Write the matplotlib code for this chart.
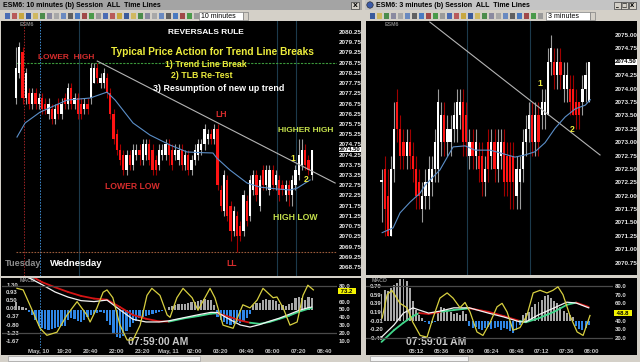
import numpy as np
import matplotlib
matplotlib.use("Agg")
import matplotlib.pyplot as plt
from matplotlib.patches import Rectangle, Circle

W, H = 640, 362
NARROW = ["Liberation Sans Narrow", "Liberation Sans", "DejaVu Sans"]

# ---------------- left window: ESM6 10 minute bars ----------------
left_open = [2077.0, 2078.25, 2079.25, 2077.0, 2077.25, 2076.75, 2077.25, 2076.75, 2077.0, 2076.75,
             2076.25, 2076.5, 2076.0, 2076.75, 2076.25, 2077.0, 2076.75, 2077.5, 2076.75, 2077.0,
             2076.75, 2076.5, 2076.75, 2077.0, 2077.75, 2078.5, 2077.75, 2077.75, 2078.0, 2077.25,
             2076.25, 2075.25, 2074.5, 2074.25, 2073.5, 2074.25, 2073.75, 2074.25, 2074.5, 2074.0,
             2074.25, 2074.75, 2074.5, 2074.0, 2073.75, 2074.25, 2074.25, 2074.75, 2074.5, 2074.25,
             2074.0, 2074.5, 2073.75, 2074.25, 2073.5, 2074.0, 2074.25, 2074.5, 2074.75, 2075.0,
             2075.25, 2075.0, 2075.5, 2072.5, 2071.5, 2073.0, 2071.75, 2070.5, 2071.25, 2070.75,
             2070.5, 2072.0, 2071.25, 2072.5, 2073.25, 2071.75, 2073.5, 2072.75, 2072.5, 2073.5,
             2072.75, 2073.0, 2072.75, 2072.25, 2072.75, 2072.25, 2072.75, 2073.25, 2073.75, 2074.5,
             2074.0, 2073.25]
left_high = [2079.5, 2079.75, 2079.5, 2078.5, 2077.5, 2077.5, 2077.5, 2077.25, 2077.25, 2077.0,
             2077.0, 2076.75, 2076.75, 2077.0, 2077.0, 2077.25, 2077.75, 2077.75, 2077.25, 2077.25,
             2077.0, 2077.0, 2077.0, 2078.75, 2078.75, 2078.75, 2078.25, 2078.5, 2078.25, 2077.5,
             2076.5, 2075.5, 2074.75, 2074.5, 2074.5, 2074.5, 2074.75, 2074.75, 2074.75, 2075.0,
             2075.0, 2075.0, 2074.75, 2074.25, 2074.75, 2074.75, 2075.0, 2075.0, 2074.75, 2074.75,
             2074.75, 2074.75, 2074.5, 2074.5, 2074.25, 2074.75, 2075.0, 2075.0, 2075.75, 2075.5,
             2075.5, 2075.75, 2075.75, 2072.75, 2073.5, 2073.25, 2072.0, 2071.75, 2071.5, 2071.0,
             2072.5, 2072.25, 2073.25, 2073.5, 2073.5, 2073.25, 2073.75, 2073.75, 2073.75, 2073.75,
             2073.5, 2073.25, 2073.0, 2073.0, 2073.0, 2073.25, 2073.75, 2075.0, 2075.0, 2074.75,
             2074.25, 2074.5]
left_low = [2076.75, 2078.0, 2076.75, 2076.75, 2076.5, 2076.5, 2076.5, 2076.5, 2076.25, 2076.25,
            2076.0, 2075.75, 2075.75, 2076.0, 2076.0, 2076.5, 2076.5, 2076.5, 2076.5, 2076.0,
            2076.0, 2076.25, 2076.25, 2076.75, 2077.75, 2077.75, 2077.5, 2077.5, 2077.0, 2076.0,
            2074.75, 2074.25, 2073.75, 2073.25, 2073.25, 2073.5, 2073.5, 2074.0, 2073.75, 2073.75,
            2074.0, 2073.75, 2073.25, 2073.25, 2073.5, 2074.0, 2074.0, 2073.75, 2073.5, 2074.0,
            2073.75, 2073.5, 2073.5, 2073.25, 2073.25, 2073.75, 2074.0, 2074.25, 2074.5, 2074.75,
            2074.75, 2074.75, 2072.5, 2071.5, 2071.25, 2071.0, 2070.0, 2070.25, 2069.5, 2070.0,
            2070.25, 2070.75, 2071.0, 2072.25, 2072.0, 2071.5, 2072.5, 2072.5, 2072.25, 2072.5,
            2072.5, 2072.0, 2072.25, 2072.0, 2071.75, 2071.75, 2072.5, 2073.0, 2073.5, 2073.5,
            2073.25, 2073.0]
left_close = [2078.5, 2079.5, 2077.0, 2078.25, 2076.75, 2077.25, 2076.75, 2077.0, 2076.5, 2076.5,
              2076.75, 2076.0, 2076.5, 2076.25, 2076.75, 2076.75, 2077.5, 2076.75, 2077.0, 2076.25,
              2076.25, 2076.75, 2076.5, 2078.5, 2078.5, 2078.0, 2078.0, 2078.25, 2077.25, 2076.25,
              2075.0, 2074.5, 2074.0, 2073.5, 2074.25, 2073.75, 2074.5, 2074.5, 2074.25, 2074.75,
              2074.75, 2074.0, 2073.5, 2073.5, 2074.5, 2074.5, 2074.75, 2074.25, 2073.75, 2074.5,
              2074.5, 2073.75, 2074.25, 2073.5, 2074.0, 2074.5, 2074.75, 2074.75, 2075.5, 2075.25,
              2075.0, 2075.5, 2072.75, 2071.75, 2073.25, 2071.25, 2070.5, 2071.5, 2070.25, 2070.25,
              2072.25, 2071.0, 2073.0, 2073.25, 2072.25, 2073.0, 2072.75, 2073.5, 2073.5, 2072.75,
              2073.25, 2072.25, 2072.5, 2072.75, 2072.25, 2073.0, 2073.5, 2074.25, 2074.5, 2073.75,
              2073.5, 2074.5]
left_ma_bar = [0.3, 2.8, 7.4, 15.7, 22.8, 28.0, 30.5, 36.0, 41.2, 47.4, 52.6, 56.6, 60.6, 61.8,
               65.8, 71.1, 75.1, 80.3, 84.3, 86.5, 90.5]
left_ma = [2075.11, 2075.80, 2076.33, 2076.92, 2077.02, 2077.31, 2076.92, 2075.80, 2075.21, 2074.72,
           2074.38, 2074.35, 2074.33, 2074.08, 2073.50, 2072.86, 2072.66, 2072.57, 2072.52, 2072.61,
           2073.01]
left_trend_bar = [25.0, 98.2]
left_trend = [2078.83, 2072.86]
left_green_level = 2078.75
left_low_level = 2069.5
left_ticks = [2080.25 - 0.5 * k for k in range(24)]

left_hist = [0.40, 0.20, 0.15, 0.10, -0.15, -0.30, -0.55, -0.85, -1.00, -1.05,
             -1.10, -1.05, -1.00, -0.95, -0.90, -0.85, -0.55, -0.45, -0.50, -0.60,
             -0.65, -0.55, -0.40, -0.30, -0.25, -0.20, -0.15, -0.20, -0.60, -0.80,
             -1.25, -1.45, -1.50, -1.40, -1.15, -0.95, -0.70, -0.60, -0.45, -0.40,
             -0.35, -0.30, -0.25, -0.20, -0.12, -0.08, -0.05, 0.15, 0.18, 0.25,
             0.28, 0.27, 0.30, 0.32, 0.38, 0.42, 0.45, 0.50, 0.55, 0.52,
             0.48, 0.25, -0.40, -0.55, -0.65, -0.75, -0.80, -0.75, -0.65, -0.70,
             -0.60, -0.45, -0.25, 0.25, 0.32, 0.35, 0.48, 0.55, 0.52, 0.50,
             0.45, 0.30, 0.25, 0.20, 0.28, 0.35, 0.60, 0.68, 0.62, 0.50,
             0.65, 0.60]
left_macd_bar = [4, 8, 12, 16, 20, 24, 28, 32, 36, 40, 44, 47, 52, 56, 60, 62, 66, 69, 72, 75,
                 78, 81, 84, 87, 90, 91]
left_macd = [1.68, 1.32, 0.93, 0.66, 0.47, 0.42, 0.50, -0.02, -0.52, -0.66, -0.66, -0.60, -0.42,
             -0.28, -0.15, -0.16, -0.55, -0.82, -0.93, -0.80, -0.62, -0.46, -0.26, -0.05, 0.10, 0.13]
left_signal = [1.85, 1.45, 1.18, 0.93, 0.72, 0.58, 0.52, 0.13, -0.29, -0.49, -0.63, -0.64, -0.46,
               -0.35, -0.22, -0.20, -0.41, -0.58, -0.70, -0.76, -0.66, -0.50, -0.33, -0.12, 0.04, 0.08]
left_stoch_bar = [0.3, 2.2, 5.2, 7.4, 9.5, 12.6, 15.7, 18.8, 21.8, 22.8, 24.9, 26.8, 28.0, 29.8,
                  32.0, 34.2, 36.0, 38.2, 40.3, 41.8, 44.3, 46.5, 47.4, 49.5, 51.4, 54.2, 56.0,
                  59.7, 61.2, 63.7, 66.8, 69.8, 72.0, 74.2, 76.0, 79.1, 80.3, 82.2, 84.3, 86.5,
                  88.3, 89.8, 91.5]
left_stoch = [77, 75, 47, 26, 17, 21, 43, 60, 43, 34, 52, 72, 75, 65, 30, 11, 11, 30, 68, 77,
              68, 43, 40, 65, 77, 65, 49, 77, 65, 30, 26, 56, 52, 62, 77, 65, 66, 52, 30, 34,
              68, 81, 75]
left_macd_ticks = [1.30, 0.93, 0.50, 0.06, -0.37, -0.80, -1.23, -1.67]
left_stoch_ticks = [80, 60, 50, 40, 30, 20, 10]
left_time_bar = [7, 15, 23, 31, 39, 47, 55, 63, 71, 79, 87, 95]
left_time_lbl = ["May, 10", "19:20", "20:40", "22:00", "23:20", "May, 11", "02:00", "03:20",
                 "04:40", "06:00", "07:20", "08:40"]

# ---------------- right window: ESM6 3 minute bars ----------------
right_open = [2072.25, 2072.5, 2072.0, 2071.25, 2072.5, 2073.75, 2073.25, 2073.0, 2072.75, 2073.0,
              2072.75, 2072.5, 2072.25, 2071.75, 2072.0, 2072.0, 2072.25, 2072.5, 2072.5, 2073.0,
              2073.5, 2073.0, 2073.0, 2073.25, 2073.25, 2073.5, 2073.75, 2073.5, 2072.75, 2073.0,
              2072.75, 2072.75, 2072.75, 2072.25, 2073.0, 2072.75, 2073.0, 2072.5, 2072.75, 2073.0,
              2072.75, 2072.75, 2072.75, 2072.0, 2072.25, 2072.5, 2073.0, 2073.25, 2073.5, 2073.0,
              2073.5, 2073.5, 2073.5, 2073.5, 2074.5, 2074.5, 2074.25, 2074.5, 2074.0, 2074.0,
              2074.0, 2074.0, 2073.75, 2073.75, 2073.75, 2074.0, 2073.75]
right_high = [2072.5, 2072.75, 2072.5, 2072.75, 2073.75, 2074.0, 2073.5, 2073.25, 2073.25, 2073.25,
              2073.0, 2072.75, 2072.5, 2072.25, 2072.5, 2072.75, 2072.75, 2073.25, 2074.0, 2073.75,
              2073.75, 2073.5, 2073.5, 2073.75, 2074.0, 2074.0, 2074.0, 2073.75, 2073.25, 2073.25,
              2073.25, 2073.0, 2073.0, 2072.75, 2073.25, 2073.25, 2073.25, 2073.25, 2073.25, 2073.25,
              2073.0, 2073.0, 2073.0, 2072.75, 2072.75, 2073.25, 2073.5, 2073.75, 2073.75, 2073.75,
              2073.75, 2074.0, 2074.0, 2074.75, 2075.0, 2074.75, 2074.75, 2074.75, 2074.5, 2074.5,
              2074.25, 2074.25, 2074.0, 2073.75, 2074.25, 2074.5, 2074.5]
right_low = [2071.5, 2071.25, 2071.25, 2071.25, 2072.25, 2073.0, 2072.5, 2072.5, 2072.5, 2072.5,
             2072.25, 2071.75, 2071.75, 2071.5, 2071.75, 2071.75, 2072.0, 2072.25, 2072.25, 2072.75,
             2072.75, 2072.75, 2072.75, 2073.0, 2073.0, 2073.25, 2072.75, 2072.75, 2072.5, 2072.5,
             2072.5, 2072.25, 2072.0, 2072.0, 2072.25, 2072.5, 2072.25, 2072.25, 2072.5, 2072.0,
             2072.0, 2071.75, 2071.75, 2071.75, 2071.75, 2072.25, 2072.75, 2073.0, 2072.75, 2072.75,
             2072.75, 2073.25, 2073.25, 2073.5, 2074.25, 2074.0, 2074.0, 2074.0, 2073.75, 2073.75,
             2073.5, 2073.5, 2073.25, 2073.25, 2073.5, 2073.75, 2073.75]
right_close = [2072.25, 2071.75, 2071.25, 2072.5, 2073.25, 2073.25, 2072.75, 2072.75, 2073.0, 2072.75,
               2072.5, 2072.0, 2072.0, 2072.0, 2072.25, 2072.5, 2072.5, 2073.0, 2073.75, 2073.5,
               2073.0, 2073.25, 2073.25, 2073.5, 2073.75, 2073.75, 2073.0, 2073.0, 2073.0, 2072.75,
               2073.0, 2072.5, 2072.25, 2072.5, 2072.5, 2073.0, 2072.5, 2073.0, 2073.0, 2072.25,
               2072.25, 2072.25, 2072.25, 2072.5, 2072.5, 2073.0, 2073.25, 2073.5, 2073.0, 2073.5,
               2073.0, 2073.75, 2073.75, 2074.5, 2074.75, 2074.25, 2074.5, 2074.25, 2074.25, 2074.25,
               2073.75, 2073.5, 2073.5, 2073.5, 2074.0, 2074.25, 2074.5]
right_ma_bar = [0.2, 3.7, 5.9, 9.1, 12.3, 13.9, 18.6, 22.8, 26.6, 29.8, 34.6, 37.7, 42.5, 45.7,
                48.9, 52.1, 55.3, 58.5, 61.7, 64.9, 66.5]
right_ma = [2071.31, 2071.40, 2071.68, 2071.88, 2072.05, 2072.20, 2072.48, 2072.91, 2072.93, 2072.85,
            2072.85, 2072.80, 2072.72, 2072.76, 2072.82, 2072.99, 2073.26, 2073.47, 2073.62, 2073.69,
            2073.79]
right_trend_bar = [15.4, 69.6]
right_trend = [2075.24, 2072.76]
right_ticks = [2075.0 - 0.25 * k for k in range(18)]

right_hist = [0.60, 0.70, 0.68, 0.75, 0.82, 0.85, 0.95, 0.95, 0.90, 0.74,
              0.45, 0.25, 0.12, 0.06, -0.04, -0.08, -0.06, -0.04, 0.22, 0.30,
              0.28, 0.25, 0.20, 0.15, 0.18, 0.12, 0.22, 0.15, -0.12, -0.18,
              -0.15, -0.20, -0.22, -0.18, -0.15, -0.20, -0.18, -0.15, -0.22, -0.18,
              -0.20, -0.25, -0.28, -0.22, -0.10, 0.12, 0.18, 0.20, 0.30, 0.38,
              0.42, 0.48, 0.55, 0.58, 0.52, 0.45, 0.40, 0.30, 0.22, 0.18,
              0.12, 0.08, -0.12, -0.20, -0.22, -0.18, -0.10]
right_macd_bar = [0, 4, 7, 10, 12, 15, 19, 23, 28, 34, 39, 44, 46, 50, 55, 59, 62, 66]
right_macd = [-0.38, -0.10, 0.17, 0.29, 0.24, 0.17, 0.22, 0.29, 0.29, 0.17, 0.08, -0.03, -0.03,
              0.13, 0.29, 0.42, 0.40, 0.29]
right_signal = [-0.49, -0.22, -0.05, 0.10, 0.17, 0.15, 0.20, 0.24, 0.28, 0.20, 0.10, -0.01, -0.04,
                0.05, 0.20, 0.36, 0.41, 0.31]
right_stoch_bar = [0.2, 1.8, 3.3, 5.9, 8.1, 10.0, 12.3, 14.5, 16.4, 18.6, 20.9, 22.8, 25.0, 26.6,
                   28.2, 30.4, 32.3, 34.6, 36.8, 38.4, 40.0, 41.9, 44.1, 46.3, 48.3, 50.5, 52.7,
                   54.6, 56.2, 57.8, 60.0, 62.3, 64.2, 66.4]
right_stoch = [43, 70, 75, 60, 55, 38, 23, 21, 43, 66, 72, 66, 55, 61, 50, 27, 23, 38, 56, 60,
               50, 29, 32, 46, 72, 75, 72, 75, 79, 70, 46, 27, 23, 46]
right_macd_ticks = [0.79, 0.59, 0.39, 0.19, -0.01, -0.20, -0.40]
right_stoch_ticks = [80, 70, 60, 40, 30, 20]
right_time_bar = [11, 19, 27, 35, 43, 51, 59, 67]
right_time_lbl = ["05:12", "05:36", "06:00", "06:24", "06:48", "07:12", "07:36", "08:00"]

last_price = 2074.50
left_stoch_last = 73.2
right_stoch_last = 48.8

fig = plt.figure(figsize=(W / 100, H / 100), dpi=100)
fig.patch.set_facecolor("#d4d0c8")


def px_axes(x0, y0, x1, y1):
    return fig.add_axes([x0 / W, 1 - y1 / H, (x1 - x0) / W, (y1 - y0) / H])


# ---- window chrome ----
bg = px_axes(0, 0, W, H)
bg.set_xlim(0, W)
bg.set_ylim(H, 0)
bg.axis("off")


def box(x0, y0, x1, y1, fc, ec="none", lw=0.5):
    bg.add_patch(Rectangle((x0, y0), x1 - x0, y1 - y0, facecolor=fc, edgecolor=ec, lw=lw))


icon_cols = ["#4a6cb4", "#b85a5a", "#c8a840", "#3a5a9c", "#d0b860", "#4c8c4c", "#8a8aa0",
             "#a8a8a8", "#6a8ac0", "#606060", "#4a7ac0", "#a04848", "#4a9a4a", "#9a9a9a"]

box(0, 0, 362, 10, "#a4a4a4")
bg.text(3, 5.2, "ESM6: 10 minutes (b) Session  ALL  Time Lines", fontsize=5, weight="bold",
        family=NARROW, va="center", color="black")
box(351, 1.5, 359, 8.5, "#d4d0c8", "#404040")
bg.text(355, 5.2, "X", fontsize=4.5, weight="bold", ha="center", va="center")
box(0, 10, 362, 21, "#d4d0c8")
for k, x in enumerate(range(5, 196, 7)):
    box(x, 13, x + 4.5, 18.5, icon_cols[k % len(icon_cols)])
box(199, 12, 243, 20, "white", "#808080")
bg.text(201, 16.2, "10 minutes", fontsize=5, family=NARROW, va="center")
box(243, 12, 248, 20, "#d4d0c8", "#808080")
box(1, 21, 361, 276, "black")
box(1, 278, 361, 355, "black")
box(0, 355, 362, 362, "#d4d0c8")
box(8, 356, 200, 361, "#f2f2f2", "#a0a0a0")

box(365, 0, 640, 10, "#c4c4c4")
bg.add_patch(Circle((370, 5), 3.2, facecolor="#3a5aa8", edgecolor="#202020", lw=0.4))
bg.text(376, 5.2, "ESM6: 3 minutes (b) Session  ALL  Time Lines", fontsize=5, weight="bold",
        family=NARROW, va="center", color="black")
for x, g in [(614, "_"), (621, "□"), (628.5, "X")]:
    box(x, 1.5, x + 7, 8.5, "#d4d0c8", "#404040")
    bg.text(x + 3.5, 5.2, g, fontsize=4, weight="bold", ha="center", va="center")
box(365, 10, 640, 21, "#d4d0c8")
for k, x in enumerate(range(370, 542, 7)):
    box(x, 13, x + 4.5, 18.5, icon_cols[(k + 3) % len(icon_cols)])
box(546, 12, 590, 20, "white", "#808080")
bg.text(548, 16.2, "3 minutes", fontsize=5, family=NARROW, va="center")
box(590, 12, 595, 20, "#d4d0c8", "#808080")
box(366, 21, 637, 275, "black")
box(366, 278, 637, 355, "black")
box(365, 355, 640, 362, "#d4d0c8")
box(370, 356, 468, 361, "#f2f2f2", "#a0a0a0")


def clean(ax):
    ax.set_facecolor("none")
    for s in ax.spines.values():
        s.set_visible(False)


def price_panel(rect, xlim, ylim, o, h, l, c, ticks, body_w):
    ax = px_axes(*rect)
    clean(ax)
    ax.set_xlim(*xlim)
    ax.set_ylim(*ylim)
    ax.set_xticks([])
    ax.yaxis.tick_right()
    ax.set_yticks(ticks)
    ax.set_yticklabels([f"{t:.2f}" for t in ticks], family=NARROW, weight="bold")
    ax.tick_params(axis="y", length=0, pad=1.5, labelsize=4.6, labelcolor="#e6e6e6")
    o, h, l, c = map(np.array, (o, h, l, c))
    idx = np.arange(len(o))
    up = c >= o
    lo = np.minimum(o, c)
    hi = np.maximum(o, c)
    ax.vlines(idx, l, h, colors=np.where(up, "#9c9c9c", "#a00000").tolist(), lw=0.8, zorder=3)
    ax.bar(idx, np.maximum(hi - lo, 0.04), bottom=lo, width=body_w,
           color=np.where(up, "#ffffff", "#ff1414").tolist(), zorder=4)
    ax.annotate(f"{last_price:.2f}", xy=(1.0, last_price), xycoords=("axes fraction", "data"),
                xytext=(1.5, 0), textcoords="offset points", ha="left", va="center",
                fontsize=4.3, weight="bold", family=NARROW, color="black",
                bbox=dict(boxstyle="square,pad=0.05", facecolor="white", edgecolor="none"),
                zorder=6, annotation_clip=False)
    return ax


def macd_panel(rect, xlim, ylim, sylim, hist, mb, macd, sig, sb, stoch, mticks, sticks,
               tb, tl, last_s, clock, clock_x):
    ax = px_axes(*rect)
    clean(ax)
    ax.set_xlim(*xlim)
    ax.set_ylim(*ylim)
    idx = np.arange(len(hist))
    hist = np.array(hist)
    ax.bar(idx, hist, width=0.62, color=np.where(hist >= 0, "#a8a8a8", "#2f86e6").tolist(), zorder=2)
    for k in range(len(mb) - 1):
        mid = int(round((mb[k] + mb[k + 1]) / 2))
        col = "#40d68a" if hist[min(mid, len(hist) - 1)] >= 0 else "#d41414"
        ax.plot(mb[k:k + 2], sig[k:k + 2], color=col, lw=1.3, zorder=3, solid_capstyle="round")
    ax.plot(mb, macd, color="#f4f4f4", lw=0.9, zorder=4)
    ax.set_yticks(mticks)
    ax.set_yticklabels([f"{t:.2f}" for t in mticks], family=NARROW, weight="bold")
    ax.tick_params(axis="y", length=0, pad=-3, labelsize=4.3, labelcolor="#d8d8d8")
    for t in ax.get_yticklabels():
        t.set_horizontalalignment("left")
    ax.set_xticks(tb)
    ax.set_xticklabels(tl, family=NARROW, weight="bold")
    ax.tick_params(axis="x", length=0, pad=0.8, labelsize=4.3, labelcolor="#c8c8c8")
    ax.text(mb[0] - 3, ylim[1], "MACD", fontsize=3.8, color="#8c8c8c", va="top", family=NARROW,
            weight="bold")
    ax.text(clock_x, 0.01, clock, transform=ax.transAxes, fontsize=7.5, weight="bold",
            family=NARROW, color="#c8c8c8", ha="center", va="bottom", zorder=6)
    ax2 = ax.twinx()
    clean(ax2)
    ax2.set_ylim(*sylim)
    ax2.axhline(80, color="#4a4a4a", lw=0.9, zorder=1)
    ax2.axhline(20, color="#4a4a4a", lw=0.9, zorder=1)
    ax2.plot(sb, stoch, color="#d8d040", lw=0.9, zorder=5)
    ax2.set_yticks(sticks)
    ax2.set_yticklabels([f"{t:.1f}" for t in sticks], family=NARROW, weight="bold")
    ax2.tick_params(axis="y", length=0, pad=1.5, labelsize=4.3, labelcolor="#d8d8d8")
    ax2.annotate(f" {last_s:.1f}  ", xy=(1.0, last_s), xycoords=("axes fraction", "data"),
                 xytext=(1.5, 0), textcoords="offset points", ha="left", va="center",
                 fontsize=4.3, weight="bold", family=NARROW, color="black",
                 bbox=dict(boxstyle="square,pad=0.1", facecolor="#f4f400", edgecolor="none"),
                 zorder=6, annotation_clip=False)
    return ax


# ---- left price panel ----
axL = price_panel((2, 21, 337, 276), (-4.31, 98.77), (2068.31, 2080.79),
                  left_open, left_high, left_low, left_close, left_ticks, 0.68)
axL.axvline(2.5, color="#a02424", lw=0.7, ls=(0, (1.5, 1.5)), zorder=1)
axL.axvline(7.3, color="#3f8fd6", lw=0.7, ls=(0, (1.5, 1.5)), zorder=1)
for b in (19.4, 80.3, 86.2):
    axL.axvline(b, color="#1c3a4c", lw=0.8, zorder=1)
axL.plot([0, 98.77], [left_green_level] * 2, color="#3c9a3c", lw=0.8, ls=(0, (2, 1.2)), zorder=2)
axL.plot([0, 98.77], [left_low_level] * 2, color="#9a5a3a", lw=0.8, ls=(0, (1.5, 1.2)), zorder=2)
axL.plot(left_trend_bar, left_trend, color="#b4b4b4", lw=0.8, zorder=5)
axL.plot(left_ma_bar, left_ma, color="#5b8fc9", lw=0.8, zorder=5)
axL.text(1.2, 2080.6, "ESM6", fontsize=3.8, color="#808080", family=NARROW, weight="bold", va="center")

YEL = "#ecec3c"
LIME = "#c6e24c"
RED = "#d42c2c"


def note(ax, x, y, s, color, size=6.2, ha="center"):
    ax.text(x, y, s, color=color, fontsize=size, weight="bold", family=NARROW, ha=ha,
            va="center", zorder=7)


note(axL, 58.5, 2080.25, "REVERSALS RULE", "white", 6.0)
note(axL, 60.3, 2079.27, "Typical Price Action for Trend Line Breaks", YEL, 7.3)
note(axL, 58.3, 2078.68, "1) Trend Line Break", YEL, 6.3)
note(axL, 57.1, 2078.10, "2) TLB Re-Test", YEL, 6.3)
note(axL, 62.5, 2077.51, "3) Resumption of new up trend", "white", 6.4)
note(axL, 6.8, 2078.98, "LOWER  HIGH", RED, 6.0, "left")
note(axL, 63.0, 2076.21, "LH", RED, 6.2)
note(axL, 80.6, 2075.45, "HIGHER HIGH", LIME, 6.0, "left")
note(axL, 27.4, 2072.71, "LOWER LOW", RED, 6.2, "left")
note(axL, 79.1, 2071.15, "HIGH LOW", LIME, 6.2, "left")
note(axL, 66.2, 2068.94, "LL", RED, 6.2)
note(axL, -3.4, 2068.94, "Tuesday", "#8c8c8c", 6.6, "left")
note(axL, 10.5, 2068.94, "Wednesday", "white", 6.8, "left")
note(axL, 85.1, 2074.06, "1", YEL, 6.2)
note(axL, 89.2, 2073.05, "2", YEL, 6.2)

# ---- right price panel ----
axR = price_panel((366, 21, 613, 275), (-4.94, 73.73), (2070.52, 2075.26),
                  right_open, right_high, right_low, right_close, right_ticks, 0.7)
for b in (27.2, 47.3):
    axR.axvline(b, color="#1c3a4c", lw=0.8, zorder=1)
axR.plot(right_trend_bar, right_trend, color="#b4b4b4", lw=0.8, zorder=5)
axR.plot(right_ma_bar, right_ma, color="#5b8fc9", lw=0.8, zorder=5)
axR.text(1.1, 2075.19, "ESM6", fontsize=3.8, color="#808080", family=NARROW, weight="bold", va="center")
note(axR, 50.5, 2074.10, "1", YEL, 6.2)
note(axR, 60.7, 2073.24, "2", YEL, 6.2)

# ---- MACD / stochastic panels ----
mL = macd_panel((2, 278, 337, 348), (-4.31, 98.77), (-2.04, 1.67), (0.82, 90.2),
                left_hist, left_macd_bar, left_macd, left_signal, left_stoch_bar, left_stoch,
                left_macd_ticks, left_stoch_ticks, left_time_bar, left_time_lbl,
                left_stoch_last, "07:59:00 AM", 0.466)
mL.axvline(7.3, color="#3f8fd6", lw=0.7, ls=(0, (1.5, 1.5)), zorder=1)
mR = macd_panel((366, 278, 613, 348), (-4.94, 73.73), (-0.629, 0.973), (8.5, 89.2),
                right_hist, right_macd_bar, right_macd, right_signal, right_stoch_bar, right_stoch,
                right_macd_ticks, right_stoch_ticks, right_time_bar, right_time_lbl,
                right_stoch_last, "07:59:01 AM", 0.285)

fig.savefig("out.png", dpi=100, facecolor=fig.get_facecolor())
